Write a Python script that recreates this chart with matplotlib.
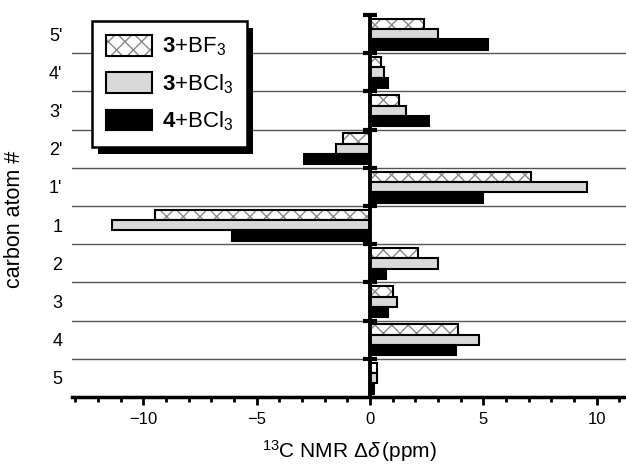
import matplotlib
matplotlib.use("Agg")
import matplotlib.pyplot as plt
from matplotlib.patches import Patch, Rectangle
import numpy as np

plt.rcParams['font.family'] = ['Liberation Sans', 'DejaVu Sans']
plt.rcParams['mathtext.fontset'] = 'custom'
plt.rcParams['mathtext.rm'] = 'Liberation Sans'
plt.rcParams['mathtext.it'] = 'Liberation Sans:italic'
plt.rcParams['mathtext.bf'] = 'Liberation Sans:bold'

# 数据：碳原子 (从上到下) 以及三组 Δδ 值
carbons = ["5'", "4'", "3'", "2'", "1'", "1", "2", "3", "4", "5"]
bf3_3 = [2.4, 0.5, 1.3, -1.2, 7.1, -9.5, 2.1, 1.0, 3.9, 0.3]
bcl3_3 = [3.0, 0.6, 1.6, -1.5, 9.6, -11.4, 3.0, 1.2, 4.8, 0.3]
bcl3_4 = [5.2, 0.8, 2.6, -2.9, 5.0, -6.1, 0.7, 0.8, 3.8, 0.2]
labels = [r"$\mathbf{3}$+BF$_3$", r"$\mathbf{3}$+BCl$_3$", r"$\mathbf{4}$+BCl$_3$"]

fig = plt.figure(figsize=(6.26, 4.66), dpi=100, facecolor='white')
ax = fig.add_axes([72/626, 1-397/466, 1-72/626, (397-15)/466])

rows = np.arange(len(carbons))
h = 0.27
# 交叉阴影：先画灰色阴影，再画黑框
ax.barh(rows + 0.235, bf3_3, height=h, color='white', edgecolor='#888888',
        hatch='xx', linewidth=0, zorder=2)
ax.barh(rows + 0.235, bf3_3, height=h, fill=False, edgecolor='black',
        linewidth=1.5, zorder=3)
ax.barh(rows + 0.505, bcl3_3, height=h, color='#d9d9d9', edgecolor='black',
        linewidth=1.5, zorder=3)
ax.barh(rows + 0.775, bcl3_4, height=h, color='black', edgecolor='black',
        linewidth=1.5, zorder=3)

# 分隔线
ax.hlines(rows[1:], -13.2, 11.4, color='#555555', linewidth=1, zorder=1)
ax.axvline(0, color='black', linewidth=2.8, zorder=4)
ax.plot(np.zeros(len(rows)), rows, linestyle='none', marker='_',
        markersize=10, markeredgewidth=3, color='black', zorder=5, clip_on=False)

ax.set_xlim(-13.15, 11.3)
ax.set_ylim(10, 0)

ax.set_xticks([-10, -5, 0, 5, 10])
ax.set_xticklabels(['\u221210', '\u22125', '0', '5', '10'])
ax.set_xticks(np.arange(-13, 12), minor=True)
ax.tick_params(axis='x', which='major', direction='out', length=6, width=2,
               labelsize=12, pad=5)
ax.tick_params(axis='x', which='minor', direction='out', length=3.5, width=2)

ax.set_yticks(rows + 0.5)
ax.set_yticklabels(carbons)
ax.tick_params(axis='y', length=0, labelsize=13, pad=7)

for s in ['top', 'right', 'left']:
    ax.spines[s].set_visible(False)
ax.spines['bottom'].set_linewidth(2.5)

ax.set_xlabel(r"$^{13}$C NMR $\Delta\mathit{\delta}\,$(ppm)", fontsize=15)
ax.xaxis.set_label_coords(0.5, -0.108)
ax.set_ylabel("carbon atom #", fontsize=15.5)
ax.yaxis.set_label_coords(-0.085, 0.466)

# 图例
hatch_h = (Patch(facecolor='white', edgecolor='#888888', hatch='xx', linewidth=0),
           Patch(fill=False, edgecolor='black', linewidth=1.5))
gray_h = Patch(facecolor='#d9d9d9', edgecolor='black', linewidth=1.5)
black_h = Patch(facecolor='black', edgecolor='black', linewidth=1.5)
leg = ax.legend([hatch_h, gray_h, black_h], labels, loc='upper left',
                bbox_to_anchor=(0.037, 0.984), borderaxespad=0, fontsize=16,
                fancybox=False, framealpha=1, edgecolor='black',
                handlelength=2.05, handleheight=1.05, handletextpad=0.45,
                labelspacing=0.62, borderpad=0.62)
leg.get_frame().set_linewidth(1.8)
leg.set_zorder(10)

fig.canvas.draw()
bb = leg.get_window_extent()
shadow = Rectangle((bb.x0 + 6, bb.y0 - 7), bb.width, bb.height,
                   transform=None, facecolor='black', edgecolor='none', zorder=9)
ax.add_artist(shadow)

fig.savefig('out.png', dpi=100)
